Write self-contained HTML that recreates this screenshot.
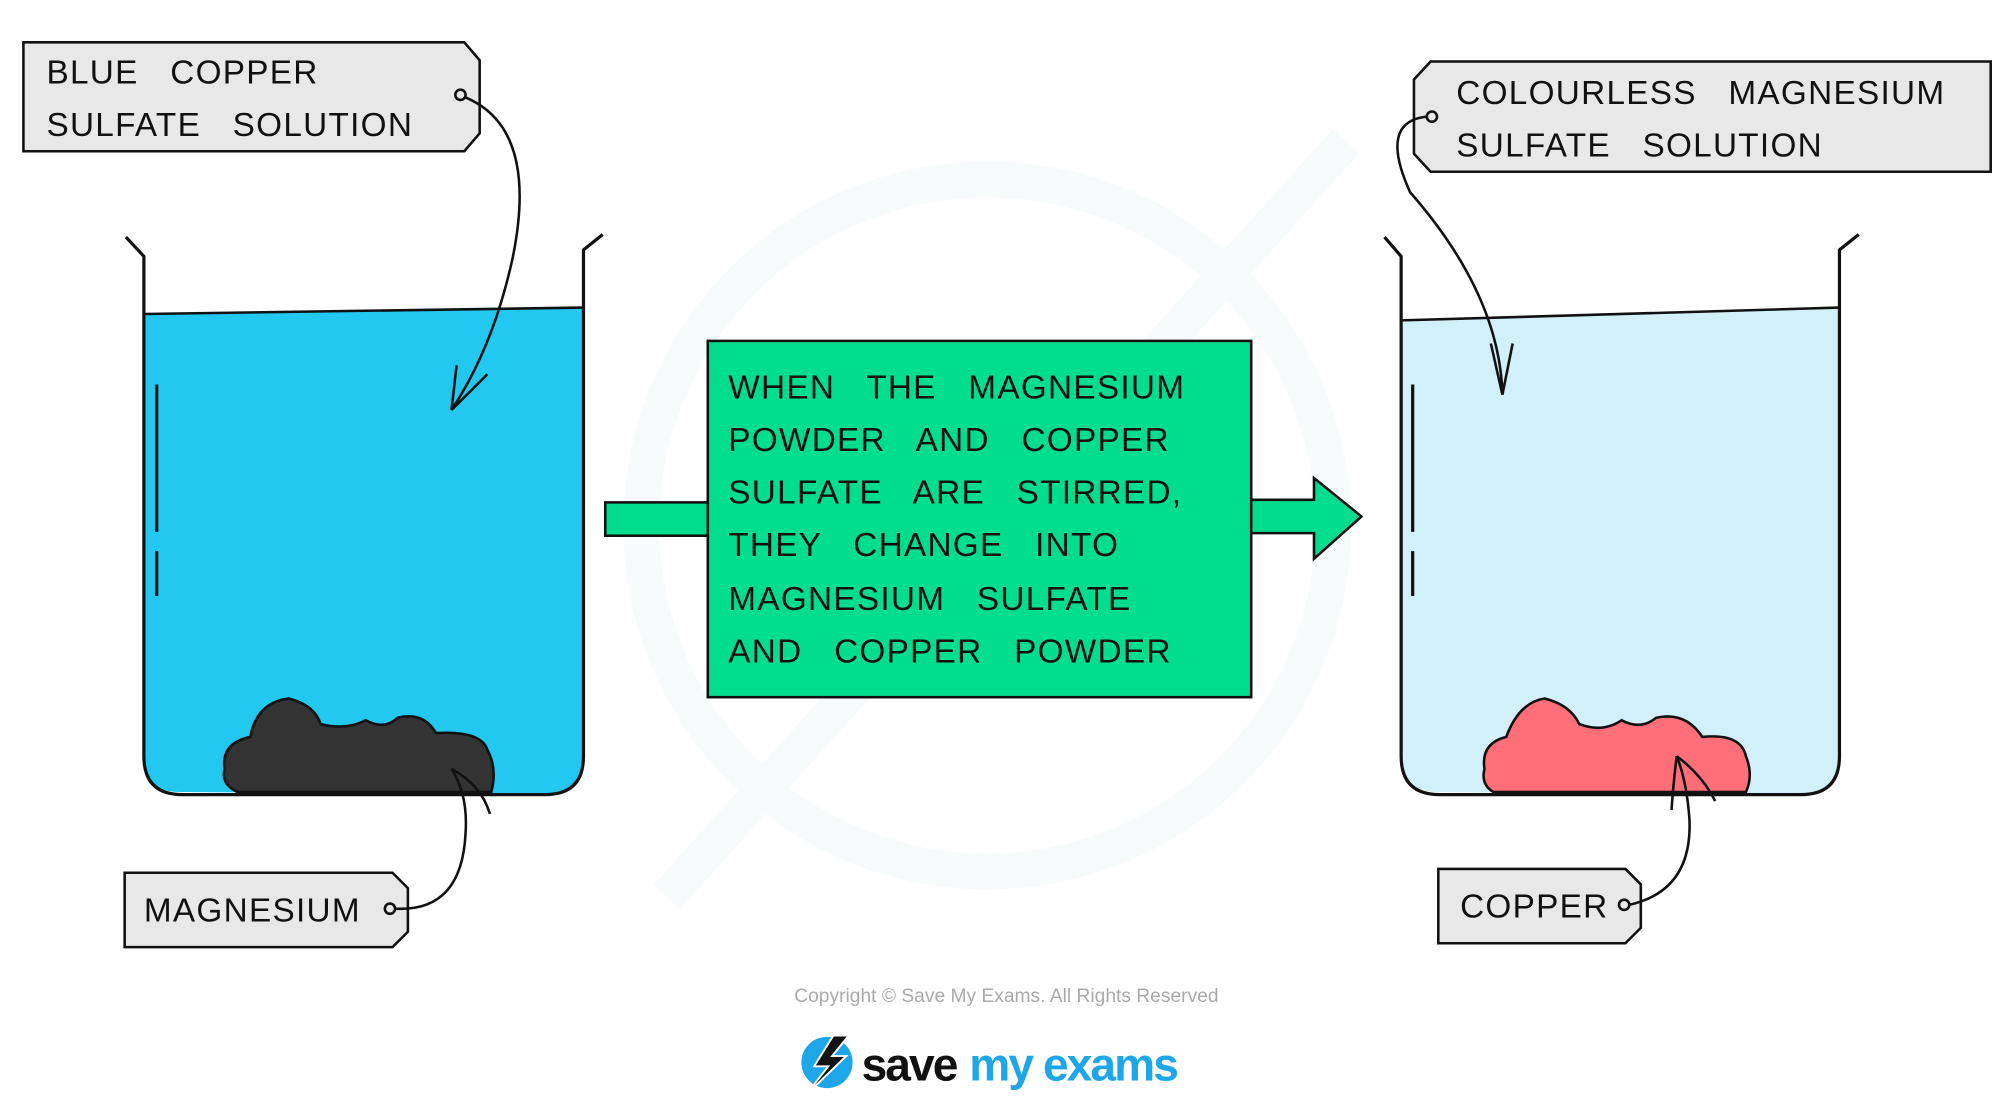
<!DOCTYPE html>
<html><head><meta charset="utf-8"><style>
html,body{margin:0;padding:0;background:#fff;width:2000px;height:1115px;overflow:hidden}
svg{display:block}
text{font-family:"Liberation Sans",sans-serif;white-space:pre}
</style></head><body>
<svg width="2000" height="1115" viewBox="0 0 1560 870" xmlns="http://www.w3.org/2000/svg" xml:space="preserve">
<!-- watermark -->
<circle cx="770" cy="410" r="270" fill="none" stroke="#f7fbfc" stroke-width="28"/>
<path d="M520 700 L1050 110" stroke="#f7fbfc" stroke-width="28"/>

<!-- left beaker -->
<path d="M112 245 L455 240 L455 590 Q455 620 425 620 L140 618 Q112 618 112 590 Z" fill="#22c8f0"/>
<path d="M175 600 Q172 580 195 575 Q200 548 225 545 Q245 550 250 565 Q270 570 285 562 Q300 570 310 560 Q330 555 340 572 Q375 570 380 585 Q388 600 383 618 L185 618 Q172 612 175 600 Z" fill="#333" stroke="#111" stroke-width="2"/>
<path d="M98 185 L112 200 L112 590 Q112 620 142 620 L425 620 Q455 620 455 590 L455 195 L470 183" fill="none" stroke="#111" stroke-width="2.5"/>
<path d="M112 245 L455 240" stroke="#111" stroke-width="2"/>
<path d="M122 300 L122 415 M122 430 L122 465" stroke="#111" stroke-width="2.5"/>

<!-- right beaker -->
<path d="M1093 250 L1435 240 L1435 590 Q1435 620 1405 620 L1122 618 Q1093 618 1093 590 Z" fill="#d2f0f9"/>
<path d="M1158 600 Q1155 580 1175 575 Q1185 548 1205 545 Q1225 550 1232 565 Q1250 572 1265 562 Q1280 570 1292 560 Q1315 555 1328 575 Q1358 572 1362 590 Q1368 605 1362 618 L1165 618 Q1155 612 1158 600 Z" fill="#ff6f7a" stroke="#111" stroke-width="2"/>
<path d="M1080 185 L1093 200 L1093 590 Q1093 620 1123 620 L1405 620 Q1435 620 1435 590 L1435 195 L1450 183" fill="none" stroke="#111" stroke-width="2.5"/>
<path d="M1093 250 L1435 240" stroke="#111" stroke-width="2"/>
<path d="M1102 300 L1102 415 M1102 430 L1102 465" stroke="#111" stroke-width="2.5"/>

<!-- arrows -->
<rect x="472" y="392" width="82" height="26" fill="#00dd8f" stroke="#111" stroke-width="2"/>
<path d="M976 390 L1025 390 L1025 373 L1062 403 L1025 436 L1025 416 L976 416" fill="#00dd8f" stroke="#111" stroke-width="2"/>
<rect x="552" y="266" width="424" height="278" fill="#00dd8f" stroke="#111" stroke-width="2"/>
<g font-size="26" fill="#111" letter-spacing="1">
<text x="568" y="311">WHEN   THE   MAGNESIUM</text>
<text x="568" y="352">POWDER   AND   COPPER</text>
<text x="568" y="393">SULFATE   ARE   STIRRED,</text>
<text x="568" y="434">THEY   CHANGE   INTO</text>
<text x="568" y="476">MAGNESIUM   SULFATE</text>
<text x="568" y="517">AND   COPPER   POWDER</text>
</g>

<!-- tags -->
<path d="M18 33 L362 33 L374 47 L374 104 L362 118 L18 118 Z" fill="#e8e8e8" stroke="#111" stroke-width="2"/>
<text x="36" y="65" font-size="26" fill="#111" letter-spacing="1">BLUE   COPPER</text>
<text x="36" y="106" font-size="26" fill="#111" letter-spacing="1">SULFATE   SOLUTION</text>
<circle cx="359" cy="74" r="4" fill="none" stroke="#111" stroke-width="2"/>
<path d="M363 76 Q420 100 400 200 Q385 270 352 320 M352 320 L356 285 M352 320 L380 292" fill="none" stroke="#111" stroke-width="2"/>

<path d="M1116 48 L1553 48 L1553 134 L1116 134 L1103 120 L1103 62 Z" fill="#e8e8e8" stroke="#111" stroke-width="2"/>
<text x="1136" y="81" font-size="26" fill="#111" letter-spacing="1">COLOURLESS   MAGNESIUM</text>
<text x="1136" y="122" font-size="26" fill="#111" letter-spacing="1">SULFATE   SOLUTION</text>
<circle cx="1117" cy="91" r="4" fill="none" stroke="#111" stroke-width="2"/>
<path d="M1113 91 Q1075 95 1100 150 Q1170 230 1172 308 M1172 308 L1163 268 M1172 308 L1180 268" fill="none" stroke="#111" stroke-width="2"/>

<path d="M97 681 L306 681 L318 693 L318 727 L306 739 L97 739 Z" fill="#e8e8e8" stroke="#111" stroke-width="2"/>
<text x="112" y="719" font-size="26" fill="#111" letter-spacing="1">MAGNESIUM</text>
<circle cx="304" cy="709" r="4" fill="none" stroke="#111" stroke-width="2"/>
<path d="M308 709 Q360 712 363 650 Q365 620 352 600 M352 600 Q375 612 382 635" fill="none" stroke="#111" stroke-width="2"/>

<path d="M1122 678 L1268 678 L1280 690 L1280 724 L1268 736 L1122 736 Z" fill="#e8e8e8" stroke="#111" stroke-width="2"/>
<text x="1139" y="716" font-size="26" fill="#111" letter-spacing="1">COPPER</text>
<circle cx="1267" cy="706" r="4" fill="none" stroke="#111" stroke-width="2"/>
<path d="M1271 706 Q1320 695 1318 640 Q1316 610 1308 590 M1308 590 Q1328 605 1338 625 M1308 590 Q1305 615 1304 632" fill="none" stroke="#111" stroke-width="2"/>

<!-- footer -->
<text x="785" y="782" font-size="15" fill="#aaa" text-anchor="middle">Copyright © Save My Exams. All Rights Reserved</text>
<circle cx="645" cy="829" r="20" fill="#1fa6e8"/>
<path d="M650 808 L635 832 L646 832 L628 855 L660 824 L649 824 L662 808 Z" fill="#111" stroke="#fff" stroke-width="1.5"/>
<text x="672" y="843" font-size="36" font-weight="bold" fill="#111" letter-spacing="-1.5">save</text>
<text x="756" y="843" font-size="36" font-weight="bold" fill="#1fa6e8" letter-spacing="-1.5">my exams</text>
</svg>
</body></html>
